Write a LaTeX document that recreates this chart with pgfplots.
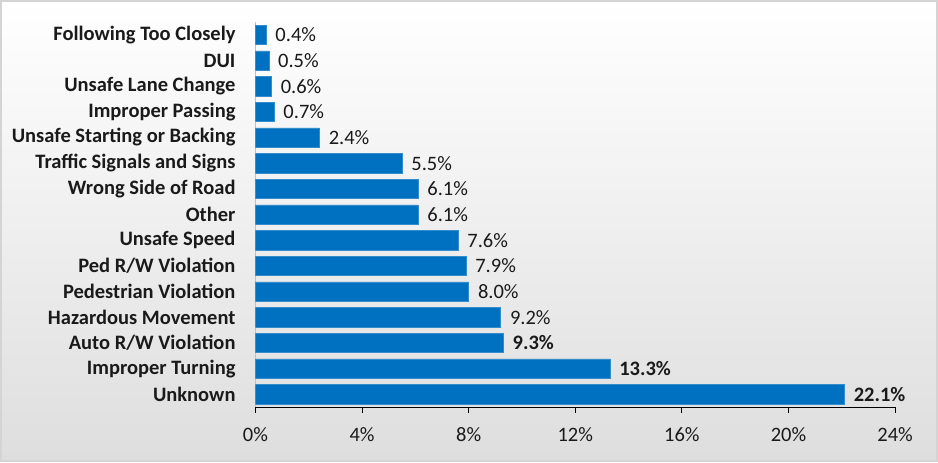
\documentclass[border=0pt]{standalone}
\usepackage{fontspec}
\setmainfont{Carlito}
\usepackage{pgfplots}
\pgfplotsset{compat=1.18}
\definecolor{barblue}{HTML}{0070C0}
\definecolor{framegray}{HTML}{D4D4D4}
\definecolor{txt}{HTML}{1A1A1A}
\newcommand{\lbl}{\fontsize{15.4}{17}\selectfont}
\begin{document}
\begin{tikzpicture}
% chart area: 938x461 px at 0.75pt per px
\shade[top color=white, bottom color=black!13, draw=framegray, line width=1.5pt]
  (0,0) rectangle (703.5pt,345.75pt);
\begin{axis}[
    at={(191.25pt,40.5pt)}, anchor=south west,
    width=480.75pt, height=289.5pt, scale only axis,
    xbar, bar width=14.5pt,
    xmin=0, xmax=24,
    ymin=-0.5, ymax=14.5, y dir=reverse,
    axis x line*=bottom, axis y line*=left,
    x axis line style={black, line width=0.8pt},
    y axis line style={black!25, line width=0.6pt},
    xtick={0,4,...,24},
    xticklabel={\pgfmathprintnumber{\tick}\%},
    /pgf/number format/assume math mode=true,
    xtick align=outside,
    xtick style={black, line width=0.8pt},
    major tick length=4.5pt,
    xticklabel style={yshift=-7pt, font=\lbl, text=txt},
    ytick={0,...,14},
    yticklabels={Following Too Closely, DUI, Unsafe Lane Change, Improper Passing,
      Unsafe Starting or Backing, Traffic Signals and Signs, Wrong Side of Road,
      Other, Unsafe Speed, Ped R/W Violation, Pedestrian Violation,
      Hazardous Movement, Auto R/W Violation, Improper Turning, Unknown},
    ytick style={draw=none},
    yticklabel style={font=\bfseries\lbl, text=txt, xshift=-7pt},
    point meta=explicit symbolic,
    nodes near coords={\pgfplotspointmeta},
    nodes near coords style={font=\lbl, text=txt, anchor=west, xshift=3.5pt},
  ]
\addplot[fill=barblue, draw=barblue!80!white] coordinates {
  (0.4,0) [0.4\%]
  (0.5,1) [0.5\%]
  (0.6,2) [0.6\%]
  (0.7,3) [0.7\%]
  (2.4,4) [2.4\%]
  (5.5,5) [5.5\%]
  (6.1,6) [6.1\%]
  (6.1,7) [6.1\%]
  (7.6,8) [7.6\%]
  (7.9,9) [7.9\%]
  (8.0,10) [8.0\%]
  (9.2,11) [9.2\%]
  (9.3,12) [\textbf{9.3\%}]
  (13.3,13) [\textbf{13.3\%}]
  (22.1,14) [\textbf{22.1\%}]
};
\end{axis}
\end{tikzpicture}
\end{document}
